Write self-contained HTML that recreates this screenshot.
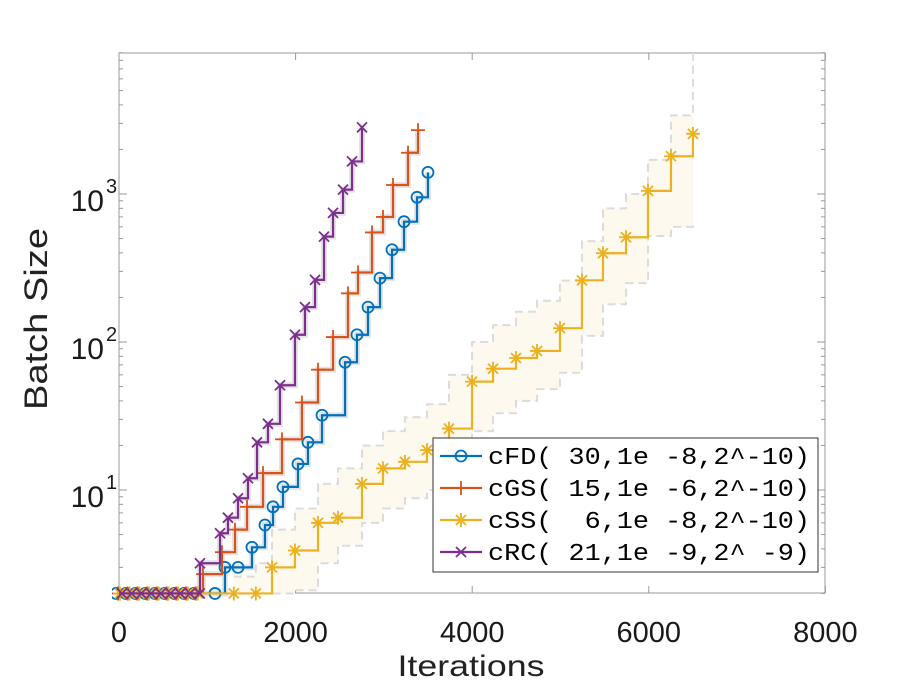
<!DOCTYPE html>
<html><head><meta charset="utf-8"><style>
body{margin:0;background:#fff;width:913px;height:686px;overflow:hidden}
svg text{font-family:"Liberation Sans",sans-serif}
</style></head><body>
<svg id="chart" width="913" height="686" viewBox="0 0 913 686" xmlns="http://www.w3.org/2000/svg">
<defs><clipPath id="clip"><rect x="112" y="53" width="713" height="548"/></clipPath></defs>
<rect x="119" y="53" width="706" height="540" fill="#fff" stroke="#9a9a9a" stroke-width="1"/>
<g id="ticks"></g>
<g id="band" clip-path="url(#clip)"></g>
<g id="series" clip-path="url(#clip)"></g>
<text x="471" y="676" font-size="30" text-anchor="middle" fill="#222" textLength="147" lengthAdjust="spacingAndGlyphs">Iterations</text>
<text transform="translate(47,319) rotate(-90)" font-size="32" text-anchor="middle" fill="#222" textLength="182" lengthAdjust="spacingAndGlyphs">Batch Size</text>
<g id="legend"></g>
</svg>
<script>
const xTicks=[0,2000,4000,6000,8000];
const yTicks=[10,100,1000];
const yExp=['1','2','3'];
const flatX=[0,110,220,330,440,550,660,770,880];
const fdX=[1087,1200,1348,1506,1653,1744,1857,2027,2140,2299,2560,2695,2820,2956,3092,3228,3375,3499];
const fdY=[2,3.0,3.0,4.1,5.8,7.7,10.5,15,21,32,73,112,172,270,420,650,950,1400];
const gsX=[951,1166,1314,1450,1631,1846,2072,2254,2424,2593,2707,2865,2990,3103,3273,3386];
const gsY=[2.7,3.8,5.4,7.7,13,22,39,65,108,213,295,550,700,1150,1900,2700];
const ssX=[1300,1550,1733,1993,2254,2480,2752,2990,3239,3488,3737,3998,4236,4496,4734,4994,5243,5481,5742,5991,6251,6500];
const ssY=[2,2,3.0,3.9,6.0,6.5,11,14,15.5,18.6,26,54,66,78,87,124,261,398,510,1050,1800,2550];
const ssHi=[2.6,3.2,5.4,7.5,11,14,20,25,31,38,60,100,130,160,190,260,480,800,1000,1700,3400,9000];
const ssLo=[2,2,2,2.1,3.2,4.2,6,7.5,8.8,10,14,25,33,40,48,62,110,180,250,520,600,640];
const rcX=[917,1144,1234,1348,1461,1563,1687,1823,1993,2106,2220,2322,2424,2537,2639,2752];
const rcY=[3.2,5.1,6.5,8.8,12,21,28,51,112,172,263,515,745,1070,1660,2820];
const names=['cFD( 30,1e -8,2^-10)','cGS( 15,1e -6,2^-10)','cSS(  6,1e -8,2^-10)','cRC( 21,1e -9,2^ -9)'];
const colors=['#0072BD','#D95319','#EDB120','#7E2F8E'];
const NS='http://www.w3.org/2000/svg';
function sx(v){return 119+v*0.0883;}
function sy(v){return 490-(Math.log10(v)-1)*148;}
function mk(tag,attrs,parent){const e=document.createElementNS(NS,tag);for(const k in attrs)e.setAttribute(k,attrs[k]);parent.appendChild(e);return e;}
const T=document.getElementById('ticks');
xTicks.forEach(v=>{
  const l=mk('line',{x1:sx(v),x2:sx(v),y1:593,y2:586,stroke:'#9a9a9a'},T);
  
  
  const l2=mk('line',{x1:sx(v),x2:sx(v),y1:53,y2:60,stroke:'#9a9a9a'},T);
  
  
  const t=mk('text',{x:sx(v),y:642,'font-size':29,'text-anchor':'middle',fill:'#1a1a1a'},T);
  t.textContent=v;
  
  
});
for(let d=0;d<=3;d++){for(let m=1;m<=9;m++){const v=m*Math.pow(10,d);if(v<2||v>9000)continue;
  const len=m===1?8:4;
  [[119,119+len],[825,825-len]].forEach(p=>{const l=mk('line',{x1:p[0],x2:p[1],y1:sy(v),y2:sy(v),stroke:'#9a9a9a'},T);
  
  });}}
yTicks.forEach((v,i)=>{
  const t=mk('text',{x:104,y:sy(v)+17,'font-size':30,'text-anchor':'end',fill:'#1a1a1a'},T);
  t.textContent='10';
  
  
  const e=mk('text',{x:106,y:sy(v)-1,'font-size':20,fill:'#1a1a1a'},T);
  e.textContent=yExp[i];
  
  
});
function stairs(xs,ys){let d='M'+sx(xs[0])+','+sy(ys[0]);for(let i=1;i<xs.length;i++){d+=' L'+sx(xs[i])+','+sy(ys[i-1])+' L'+sx(xs[i])+','+sy(ys[i]);}return d;}
const B=document.getElementById('band');
let bd=stairs(ssX,ssHi);
for(let i=ssX.length-1;i>=0;i--){bd+=' L'+sx(ssX[i])+','+sy(ssLo[i]);if(i>0)bd+=' L'+sx(ssX[i])+','+sy(ssLo[i-1]);}
const bf=mk('path',{d:bd+'Z',fill:'#fdf9ee',stroke:'none'},B);


const bh=mk('path',{d:stairs(ssX,ssHi),fill:'none',stroke:'#dcdcdc','stroke-width':2,'stroke-dasharray':'8 5'},B);


const bl=mk('path',{d:stairs(ssX,ssLo),fill:'none',stroke:'#dcdcdc','stroke-width':2,'stroke-dasharray':'8 5'},B);


function marker(type,x,y,c,parent){
  const g=mk('g',{stroke:c,'stroke-width':1.8,fill:'none'},parent);
  if(type==='o')mk('circle',{cx:x,cy:y,r:5.5},g);
  else if(type==='+'){mk('path',{d:`M${x-7},${y}H${x+7}M${x},${y-7}V${y+7}`},g);}
  else if(type==='x'){mk('path',{d:`M${x-5},${y-5}L${x+5},${y+5}M${x-5},${y+5}L${x+5},${y-5}`},g);}
  else {mk('path',{d:`M${x-7},${y}H${x+7}M${x},${y-7}V${y+7}M${x-5},${y-5}L${x+5},${y+5}M${x-5},${y+5}L${x+5},${y-5}`},g);}
  return g;
}
const S=document.getElementById('series');
const sets=[[fdX,fdY,'o'],[gsX,gsY,'+'],[ssX,ssY,'*'],[rcX,rcY,'x']];
sets.forEach((s,k)=>{
  const xs=flatX.concat(s[0]);const ys=flatX.map(()=>2).concat(s[1]);
  if(k!==2){const h=mk('path',{d:stairs(xs,ys),fill:'none',stroke:'#e4e4e4','stroke-width':6},S);
  
  }
});
sets.forEach((s,k)=>{
  const xs=flatX.concat(s[0]);const ys=flatX.map(()=>2).concat(s[1]);
  const g=mk('g',{},S);
  
  
  mk('path',{d:stairs(xs,ys),fill:'none',stroke:colors[k],'stroke-width':2.2},g);
  xs.forEach((x,i)=>{const m=marker(s[2],sx(x)+(i<flatX.length?k*2-3:0),sy(ys[i]),colors[k],g);
  
  });
});
const L=document.getElementById('legend');
mk('rect',{x:433,y:438,width:385,height:134,fill:'#fff',stroke:'#333','stroke-width':1},L);
names.forEach((n,k)=>{
  const y=456+k*32;
  const e=mk('g',{},L);
  
  
  mk('line',{x1:440,x2:482,y1:y,y2:y,stroke:colors[k],'stroke-width':2.2},e);
  marker(sets[k][2],461,y,colors[k],e);
  const t=mk('text',{x:488,y:y+8,'font-size':24,fill:'#000',textLength:322,lengthAdjust:'spacingAndGlyphs'},e);
  t.setAttribute('style','font-family:"Liberation Mono",monospace;white-space:pre');
  t.textContent=n;
});
</script>
</body></html>
